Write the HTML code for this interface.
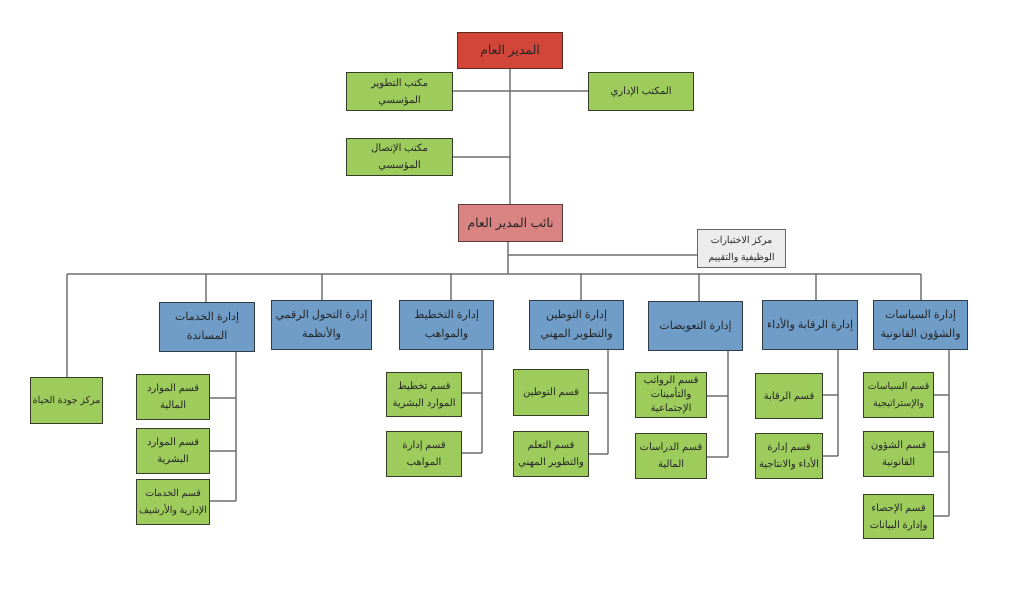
<!DOCTYPE html>
<html><head><meta charset="utf-8"><style>
body{margin:0;width:1024px;height:614px;background:#fff;position:relative;overflow:hidden;font-family:"Liberation Sans","Noto Sans CJK SC",sans-serif;}
.b{position:absolute;box-sizing:border-box;border:1.6px solid #353d2a;display:flex;align-items:center;justify-content:center;text-align:center;direction:rtl;font-size:10px;line-height:17px;color:#252525;white-space:nowrap;}
.g{background:#9dcb5c;}
.bl{background:#6f9dc8;border-color:#303c48;font-size:11px;line-height:19px;}
.r{background:#d2463a;border-color:#5a2a25;font-size:12.5px;}
.p{background:#d98383;border-color:#5a3a3a;font-size:12.5px;}
.gr{background:#ececec;border-color:#666;font-size:9.5px;}
svg{position:absolute;left:0;top:0;}
</style></head><body>
<svg width="1024" height="614"><g stroke="#6e6e6e" stroke-width="1.5" fill="none">
<path d="M510 69V205M453 91H588M453 157H510M508 242V274M508 255H697M67 274H921"/>
<path d="M67 274V377M206 274V302M322 274V300M451 274V300M581 274V300M699 274V301M816 274V300M921 274V300"/>
<path d="M236 352V501M210 398H236M210 451H236M210 501H236"/>
<path d="M482 350V453M462 393H482M462 453H482"/>
<path d="M608 350V454M589 393H608M589 454H608"/>
<path d="M728 351V457M707 396H728M707 457H728"/>
<path d="M838 350V456M823 395H838M823 456H838"/>
<path d="M949 350V516M934 395H949M934 452H949M934 516H949"/>
</g></svg>
<div class="b r" style="left:457px;top:32px;width:106px;height:37px">المدير العام</div>
<div class="b g" style="left:346px;top:72px;width:107px;height:39px">مكتب التطوير<br>المؤسسي</div>
<div class="b g" style="left:588px;top:72px;width:106px;height:39px">المكتب الإداري</div>
<div class="b g" style="left:346px;top:138px;width:107px;height:38px">مكتب الإتصال<br>المؤسسي</div>
<div class="b p" style="left:458px;top:204px;width:105px;height:38px">نائب المدير العام</div>
<div class="b gr" style="left:697px;top:229px;width:89px;height:39px">مركز الاختبارات<br>الوظيفية والتقييم</div>
<div class="b g" style="left:30px;top:377px;width:73px;height:47px;font-size:9.5px">مركز جودة الحياة</div>
<div class="b bl" style="left:159px;top:302px;width:96px;height:50px">إدارة الخدمات<br>المساندة</div>
<div class="b bl" style="left:271px;top:300px;width:101px;height:50px">إدارة التحول الرقمي<br>والأنظمة</div>
<div class="b bl" style="left:399px;top:300px;width:95px;height:50px">إدارة التخطيط<br>والمواهب</div>
<div class="b bl" style="left:529px;top:300px;width:95px;height:50px">إدارة التوطين<br>والتطوير المهني</div>
<div class="b bl" style="left:648px;top:301px;width:95px;height:50px">إدارة التعويضات</div>
<div class="b bl" style="left:762px;top:300px;width:96px;height:50px">إدارة الرقابة والأداء</div>
<div class="b bl" style="left:873px;top:300px;width:95px;height:50px">إدارة السياسات<br>والشؤون القانونية</div>
<div class="b g" style="left:136px;top:374px;width:74px;height:46px">قسم الموارد<br>المالية</div>
<div class="b g" style="left:136px;top:428px;width:74px;height:46px">قسم الموارد<br>البشرية</div>
<div class="b g" style="left:136px;top:479px;width:74px;height:46px;font-size:9.5px">قسم الخدمات<br>الإدارية والأرشيف</div>
<div class="b g" style="left:386px;top:372px;width:76px;height:45px">قسم تخطيط<br>الموارد البشرية</div>
<div class="b g" style="left:386px;top:431px;width:76px;height:46px">قسم إدارة<br>المواهب</div>
<div class="b g" style="left:513px;top:369px;width:76px;height:47px">قسم التوطين</div>
<div class="b g" style="left:513px;top:431px;width:76px;height:46px">قسم التعلم<br>والتطوير المهني</div>
<div class="b g" style="left:635px;top:372px;width:72px;height:46px;line-height:14px">قسم الرواتب<br>والتأمينات<br>الإجتماعية</div>
<div class="b g" style="left:635px;top:433px;width:72px;height:46px">قسم الدراسات<br>المالية</div>
<div class="b g" style="left:755px;top:373px;width:68px;height:46px">قسم الرقابة</div>
<div class="b g" style="left:755px;top:433px;width:68px;height:46px">قسم إدارة<br>الأداء والانتاجية</div>
<div class="b g" style="left:863px;top:372px;width:71px;height:46px;font-size:9.5px">قسم السياسات<br>والإستراتيجية</div>
<div class="b g" style="left:863px;top:431px;width:71px;height:46px">قسم الشؤون<br>القانونية</div>
<div class="b g" style="left:863px;top:494px;width:71px;height:45px">قسم الإحصاء<br>وإدارة البيانات</div>
</body></html>
